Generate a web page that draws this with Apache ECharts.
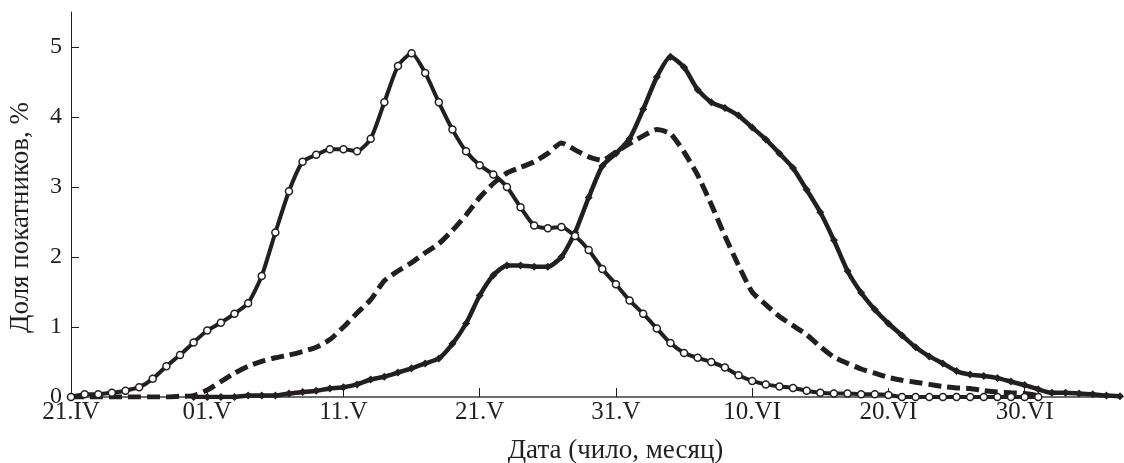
<!DOCTYPE html>
<html>
<head>
<meta charset="utf-8">
<script src="https://cdn.jsdelivr.net/npm/echarts@6/dist/echarts.min.js"></script>
<style>
  html, body { margin: 0; padding: 0; background: #fff; }
  #chart { width: 1124px; height: 463px; }
</style>
</head>
<body>
<div id="chart"></div>
<script>
// Day index 0 = 21 April; one value per day.
const tickDays = [0, 10, 20, 30, 40, 50, 60, 70];
const tickLabels = ['21.IV', '01.V', '11.V', '21.V', '31.V', '10.VI', '20.VI', '30.VI'];
const yTicks = [0, 1, 2, 3, 4, 5];

// Early run (open circles), days 0..71
const seriesEarly = [
  0, 0.04, 0.04, 0.06, 0.09, 0.14, 0.26, 0.44, 0.60, 0.78,
  0.95, 1.06, 1.19, 1.34, 1.73, 2.35, 2.94, 3.36, 3.46, 3.54,
  3.54, 3.51, 3.69, 4.21, 4.73, 4.91, 4.63, 4.21, 3.82, 3.51,
  3.31, 3.18, 3.00, 2.71, 2.45, 2.41, 2.43, 2.30, 2.10, 1.83,
  1.61, 1.38, 1.19, 0.98, 0.77, 0.63, 0.56, 0.50, 0.42, 0.31,
  0.23, 0.18, 0.15, 0.13, 0.09, 0.06, 0.05, 0.05, 0.04, 0.04,
  0.03, 0, 0, 0, 0, 0, 0, 0, 0, 0,
  0, 0
];
const earlyStart = 0;

// Late run (filled diamonds), days 9..77
const seriesLate = [
  0, 0, 0, 0, 0.02, 0.02, 0.02, 0.05, 0.07, 0.09,
  0.12, 0.14, 0.18, 0.25, 0.29, 0.35, 0.41, 0.48, 0.55, 0.76,
  1.05, 1.45, 1.74, 1.88, 1.88, 1.86, 1.86, 2.00, 2.35, 2.85,
  3.30, 3.48, 3.69, 4.11, 4.57, 4.86, 4.71, 4.39, 4.21, 4.13,
  4.02, 3.85, 3.68, 3.48, 3.27, 2.96, 2.64, 2.24, 1.80, 1.49,
  1.25, 1.05, 0.88, 0.71, 0.58, 0.48, 0.37, 0.32, 0.30, 0.27,
  0.22, 0.17, 0.11, 0.06, 0.06, 0.05, 0.04, 0.02, 0.01
];
const lateStart = 9;

// Mean run (dashed), days 0..71
const seriesMean = [
  0, 0, 0, 0, 0, 0, 0, 0, 0.01, 0.02,
  0.10, 0.22, 0.34, 0.44, 0.51, 0.56, 0.60, 0.65, 0.71, 0.82,
  1.00, 1.20, 1.39, 1.66, 1.80, 1.92, 2.06, 2.19, 2.38, 2.60,
  2.85, 3.05, 3.20, 3.28, 3.36, 3.48, 3.63, 3.53, 3.43, 3.38,
  3.50, 3.62, 3.73, 3.82, 3.76, 3.50, 3.17, 2.75, 2.30, 1.88,
  1.50, 1.32, 1.15, 1.02, 0.89, 0.72, 0.57, 0.48, 0.40, 0.34,
  0.28, 0.24, 0.21, 0.18, 0.15, 0.13, 0.12, 0.09, 0.07, 0.06,
  0.05, 0.02
];
const meanStart = 0;

const toPairs = (arr, start) => arr.map((v, i) => [start + i, v]);

const ink = '#231f20';
const serif = '"Liberation Serif", "DejaVu Serif", serif';

const chart = echarts.init(document.getElementById('chart'), null, { renderer: 'canvas' });
chart.setOption({
  animation: false,
  backgroundColor: '#fff',
  grid: { left: 71, right: 4, top: 12, bottom: 66, containLabel: false, outerBoundsMode: 'none' },
  xAxis: {
    type: 'value',
    min: 0,
    max: 77,
    interval: 10,
    splitLine: { show: false },
    axisLine: { show: true, onZero: false, lineStyle: { color: '#6d6e71', width: 2 } },
    axisTick: { show: true, inside: true, length: 9, customValues: tickDays, lineStyle: { color: ink, width: 1 } },
    axisLabel: {
      customValues: tickDays,
      formatter: v => tickLabels[tickDays.indexOf(v)] || '',
      color: ink, fontFamily: serif, fontSize: 25, margin: 3
    },
    name: 'Дата (чило, месяц)',
    nameLocation: 'middle',
    nameGap: 40,
    nameTextStyle: { color: ink, fontFamily: serif, fontSize: 27, padding: [0, 0, 0, 40] }
  },
  yAxis: {
    type: 'value',
    min: 0,
    max: 5.5,
    interval: 1,
    splitLine: { show: false },
    axisLine: { show: true, lineStyle: { color: ink, width: 1 } },
    axisTick: { show: true, inside: true, length: 8, customValues: yTicks, lineStyle: { color: ink, width: 1 } },
    axisLabel: {
      customValues: yTicks,
      color: ink, fontFamily: serif, fontSize: 24, margin: 9
    },
    name: 'Доля покатников, %',
    nameLocation: 'middle',
    nameGap: 37,
    nameTextStyle: { color: ink, fontFamily: serif, fontSize: 27, padding: [0, 26, 0, 0] }
  },
  series: [
    {
      name: 'mean',
      type: 'line',
      data: toPairs(seriesMean, meanStart),
      showSymbol: false,
      symbol: 'none',
      smooth: 0.2,
      lineStyle: { color: ink, width: 5, type: [13, 6] },
      z: 2
    },
    {
      name: 'late',
      type: 'line',
      data: toPairs(seriesLate, lateStart),
      symbol: 'diamond',
      symbolSize: 8,
      smooth: 0.2,
      itemStyle: { color: ink },
      lineStyle: { color: ink, width: 4.5 },
      z: 3
    },
    {
      name: 'early',
      type: 'line',
      data: toPairs(seriesEarly, earlyStart),
      symbol: 'circle',
      symbolSize: 7,
      smooth: 0.2,
      itemStyle: { color: '#fff', borderColor: ink, borderWidth: 1.5 },
      lineStyle: { color: ink, width: 4 },
      z: 4
    }
  ]
});
</script>
</body>
</html>
